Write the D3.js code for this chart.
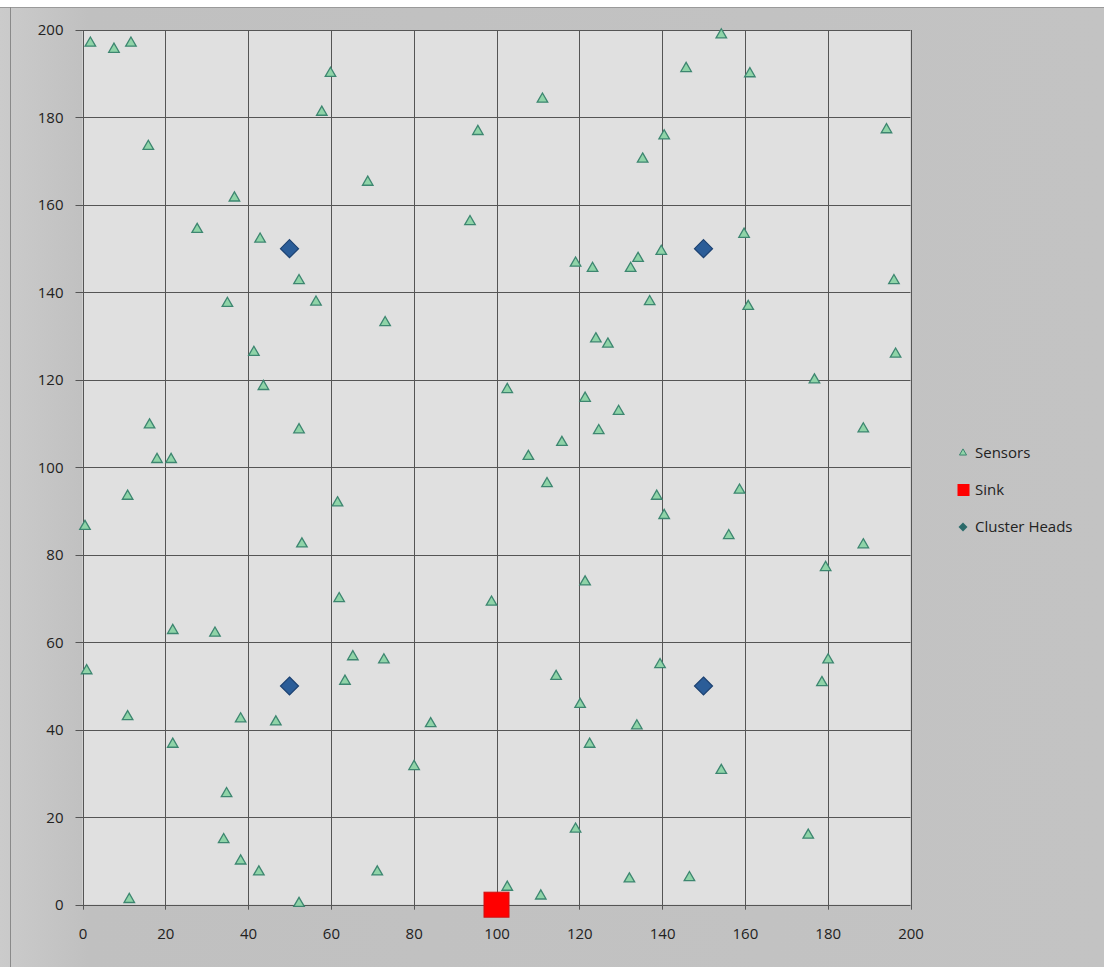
<!DOCTYPE html>
<html>
<head>
<meta charset="utf-8">
<style>
  body { margin: 0; background: #fff; }
  svg { display: block; }
  .tick text { font-family: "Open Sans", "Liberation Sans", sans-serif; font-size: 15px; fill: #222; }
  .legend text { font-family: "Open Sans", "Liberation Sans", sans-serif; font-size: 15px; fill: #222; }
</style>
</head>
<body>
<svg width="1104" height="967"></svg>
<script src="https://d3js.org/d3.v7.min.js"></script>
<script>
// sensor positions
let sensorX = [1.9, 7.6, 11.7, 59.9, 57.8, 15.9, 68.9, 36.7, 27.7, 42.9, 52.3, 35.0, 56.4,
  73.1, 41.4, 43.7, 16.2, 52.3, 18.0, 21.4, 10.9, 61.6, 0.6, 53.0, 62.0,
  21.8, 32.0, 1.0, 65.3, 72.8, 63.4, 10.9, 38.2, 46.7, 21.8, 34.8, 34.1, 38.2, 42.6, 11.3, 52.3, 71.2,
  154.3, 145.8, 161.2, 111.1, 95.5, 140.5, 194.2, 135.3, 93.6, 159.8, 139.8, 134.2, 119.1, 123.2, 132.4,
  196.0, 137.0, 160.8,
  124.0, 126.9, 196.4, 176.8, 102.6, 121.4, 129.5, 124.7, 188.6, 115.8, 107.7, 112.2, 138.7, 158.7,
  140.5, 156.1, 188.6, 179.5, 121.4, 98.8,
  180.1, 139.5, 114.4, 178.6, 120.2, 84.1, 133.9, 122.5, 80.1, 154.3, 119.1, 175.3, 132.1, 146.6,
  102.6, 110.7]
let sensorY = [197.0, 195.6, 197.0, 190.1, 181.2, 173.4, 165.2, 161.6, 154.4, 152.2, 142.7, 137.5, 137.8,
  133.1, 126.3, 118.5, 109.7, 108.6, 101.8, 101.8, 93.4, 91.9, 86.5, 82.5, 70.0,
  62.7, 62.1, 53.5, 56.7, 56.0, 51.1, 43.0, 42.5, 41.8, 36.7, 25.4, 14.9, 10.0, 7.5, 1.2, 0.3, 7.5,
  198.9, 191.2, 190.0, 184.2, 176.8, 175.8, 177.2, 170.5, 156.2, 153.3, 149.4, 147.8, 146.7, 145.5, 145.5,
  142.7, 137.9, 136.8,
  129.4, 128.2, 125.9, 120.0, 117.8, 115.8, 112.8, 108.4, 108.8, 105.7, 102.5, 96.3, 93.4, 94.8,
  89.0, 84.4, 82.3, 77.1, 73.8, 69.2,
  56.0, 54.9, 52.2, 50.8, 45.8, 41.4, 40.9, 36.7, 31.6, 30.7, 17.3, 15.9, 5.9, 6.2,
  4.0, 2.0]

let headX = [50, 150, 50, 150]
let headY = [150, 150, 50, 50]

let sinkX = [100]
let sinkY = [0]

let xTicks = [0, 20, 40, 60, 80, 100, 120, 140, 160, 180, 200]
let yTicks = [0, 20, 40, 60, 80, 100, 120, 140, 160, 180, 200]

let legendNames = ["Sensors", "Sink", "Cluster Heads"]

let svg = d3.select("svg")

let margin = { top: 30, left: 82.5, right: 194, bottom: 62 }
let width = 1104, height = 967

// chart background
let defs = svg.append("defs")
let grad = defs.append("linearGradient").attr("id", "bg").attr("x1", "0").attr("x2", "1")
grad.append("stop").attr("offset", "0").attr("stop-color", "#cbcbcb")
grad.append("stop").attr("offset", "0.08").attr("stop-color", "#c0c0c0")
grad.append("stop").attr("offset", "1").attr("stop-color", "#c3c3c3")

svg.append("rect").attr("x", 0).attr("y", 7).attr("width", width).attr("height", height - 7)
  .attr("fill", "url(#bg)")
svg.append("line").attr("x1", 0).attr("x2", width).attr("y1", 7.5).attr("y2", 7.5)
  .attr("stroke", "#9a9a9a")
svg.append("line").attr("x1", 10.5).attr("x2", 10.5).attr("y1", 7).attr("y2", height)
  .attr("stroke", "#8a8a8a")

let x = d3.scaleLinear().domain([0, 200]).range([margin.left, width - margin.right + 0.5])
let y = d3.scaleLinear().domain([0, 200]).range([height - margin.bottom - 0.3, margin.top])

// plot area
svg.append("rect")
  .attr("x", x(0)).attr("y", y(200))
  .attr("width", x(200) - x(0)).attr("height", y(0) - y(200))
  .attr("fill", "#e0e0e0")

// grid
let grid = svg.append("g").attr("stroke", "#555").attr("stroke-width", 1)
grid.selectAll(".vx").data(xTicks).join("line")
  .attr("x1", d => Math.round(x(d)) + 0.5).attr("x2", d => Math.round(x(d)) + 0.5)
  .attr("y1", y(200)).attr("y2", y(0) + 5)
grid.selectAll(".hy").data(yTicks).join("line")
  .attr("y1", d => Math.round(y(d)) + 0.5).attr("y2", d => Math.round(y(d)) + 0.5)
  .attr("x1", x(0) - 7).attr("x2", x(200))

// axes (labels only, lines drawn by grid)
let xAxis = svg.append("g")
  .attr("transform", `translate(0,${y(0)})`)
  .call(d3.axisBottom(x).tickValues(xTicks).tickSize(0).tickPadding(24))
xAxis.select(".domain").remove()

let yAxis = svg.append("g")
  .attr("transform", `translate(${x(0)},0)`)
  .call(d3.axisLeft(y).tickValues(yTicks).tickSize(0).tickPadding(19))
yAxis.select(".domain").remove()

// sensors
let sensors = sensorX.map((d, i) => ({ x: d, y: sensorY[i] }))
let tri = d3.symbol().type(d3.symbolTriangle).size(48)
svg.append("g").selectAll("path").data(sensors).join("path")
  .attr("d", tri)
  .attr("transform", d => `translate(${x(d.x)},${y(d.y)})`)
  .attr("fill", "#8fd4a8")
  .attr("stroke", "#3d8670")
  .attr("stroke-width", 1.3)

// cluster heads
let heads = headX.map((d, i) => ({ x: d, y: headY[i] }))
svg.append("g").selectAll("path").data(heads).join("path")
  .attr("d", "M0,-9L9,0L0,9L-9,0Z")
  .attr("transform", d => `translate(${x(d.x)},${y(d.y)})`)
  .attr("fill", "#2b5d98")
  .attr("stroke", "#1c4272")
  .attr("stroke-width", 1.2)

// sink
let sinks = sinkX.map((d, i) => ({ x: d, y: sinkY[i] }))
svg.append("g").selectAll("rect").data(sinks).join("rect")
  .attr("x", d => x(d.x) - 12.5).attr("y", d => y(d.y) - 12.5)
  .attr("width", 25).attr("height", 25)
  .attr("fill", "#ff0000")
  .attr("stroke", "#d01010")

// legend
let legend = svg.append("g").attr("class", "legend")
let ly = d3.scalePoint().domain(legendNames).range([453, 527])

legend.append("path")
  .attr("d", d3.symbol().type(d3.symbolTriangle).size(22))
  .attr("transform", `translate(963,${ly("Sensors")})`)
  .attr("fill", "#8fd4a8").attr("stroke", "#3d8670")
legend.append("rect")
  .attr("x", 957.5).attr("y", ly("Sink") - 6).attr("width", 12).attr("height", 12)
  .attr("fill", "#ff0000")
legend.append("path")
  .attr("d", "M0,-4.5L4.5,0L0,4.5L-4.5,0Z")
  .attr("transform", `translate(963,${ly("Cluster Heads")})`)
  .attr("fill", "#2b6a6a")

legend.selectAll("text").data(legendNames).join("text")
  .attr("x", 975)
  .attr("y", d => ly(d))
  .attr("dy", "0.35em")
  .text(d => d)
</script>
</body>
</html>
